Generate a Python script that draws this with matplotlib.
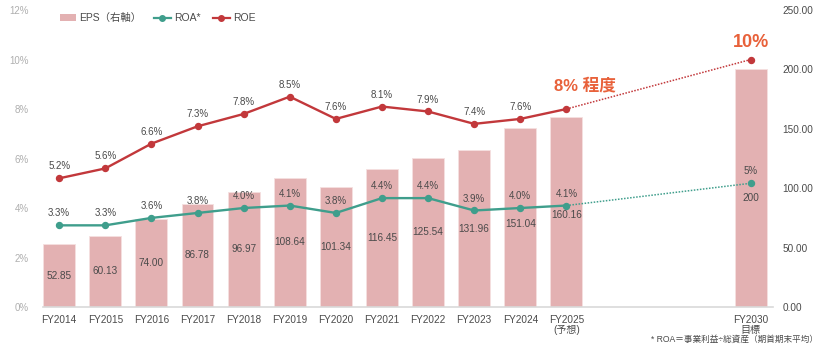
import matplotlib
matplotlib.use("Agg")
import matplotlib.pyplot as plt
from matplotlib.lines import Line2D
from matplotlib.patches import Patch

plt.rcParams['font.family'] = ['Liberation Sans', 'Noto Sans CJK JP', 'DejaVu Sans']

categories = ["FY2014", "FY2015", "FY2016", "FY2017", "FY2018", "FY2019", "FY2020",
              "FY2021", "FY2022", "FY2023", "FY2024", "FY2025\n(予想)", "FY2030\n目標"]
eps = [52.85, 60.13, 74.00, 86.78, 96.97, 108.64, 101.34, 116.45, 125.54, 131.96, 151.04, 160.16, 200]
eps_labels = ["52.85", "60.13", "74.00", "86.78", "96.97", "108.64", "101.34", "116.45",
              "125.54", "131.96", "151.04", "160.16", "200"]
roa = [3.3, 3.3, 3.6, 3.8, 4.0, 4.1, 3.8, 4.4, 4.4, 3.9, 4.0, 4.1, 5.0]
roa_labels = ["3.3%", "3.3%", "3.6%", "3.8%", "4.0%", "4.1%", "3.8%", "4.4%", "4.4%",
              "3.9%", "4.0%", "4.1%", "5%"]
roe = [5.2, 5.6, 6.6, 7.3, 7.8, 8.5, 7.6, 8.1, 7.9, 7.4, 7.6, 8.0, 10.0]
roe_labels = ["5.2%", "5.6%", "6.6%", "7.3%", "7.8%", "8.5%", "7.6%", "8.1%", "7.9%",
              "7.4%", "7.6%", "8% 程度", "10%"]
xpos = list(range(12)) + [15]

BAR = "#E3B1B2"
RED = "#C2383B"
TEAL = "#3F9E8C"
ORANGE = "#E8613A"
LBL = "#4A4A4A"

fig = plt.figure(figsize=(8.39, 3.49), dpi=100)
ax = fig.add_axes([0.0513, 0.1203, 0.8700, 0.8510])
ax2 = ax.twinx()

ax.set_zorder(2)
ax.patch.set_visible(False)
ax2.set_zorder(1)

ax2.bar(xpos, eps, width=0.69, color=BAR, edgecolor="#F5E0E0", linewidth=0.6)
# vertical nudges (points) for the last labels so they clear the ROA markers
nudge = {10: -5, 11: -2, 12: -7}
for i, (x, v, t) in enumerate(zip(xpos, eps, eps_labels)):
    ax2.annotate(t, (x, v / 2), xytext=(0, nudge.get(i, 0)), textcoords="offset points",
                 ha="center", va="center", fontsize=7.2, color=LBL)

# ROE
ax.plot(xpos[:12], roe[:12], color=RED, lw=1.7, marker="o", ms=4.3, zorder=5)
ax.plot([xpos[11], xpos[12]], [roe[11], roe[12]], color=RED, lw=1.1, ls=(0, (1, 1)), zorder=4)
ax.plot([xpos[12]], [roe[12]], color=RED, marker="o", ms=4.3, ls="none", zorder=5)
# ROA
ax.plot(xpos[:12], roa[:12], color=TEAL, lw=1.7, marker="o", ms=4.3, zorder=5)
ax.plot([xpos[11], xpos[12]], [roa[11], roa[12]], color=TEAL, lw=1.1, ls=(0, (1, 1)), zorder=4)
ax.plot([xpos[12]], [roa[12]], color=TEAL, marker="o", ms=4.3, ls="none", zorder=5)

for i, (x, v, t) in enumerate(zip(xpos, roe, roe_labels)):
    if i == 11:
        ax.annotate(t, (x, v), xytext=(13, 11), textcoords="offset points", ha="center",
                    va="bottom", fontsize=12, fontweight="bold", color=ORANGE)
    elif i == 12:
        ax.annotate(t, (x, v), xytext=(0, 6), textcoords="offset points", ha="center",
                    va="bottom", fontsize=13, fontweight="bold", color=ORANGE)
    else:
        ax.annotate(t, (x, v), xytext=(0, 5), textcoords="offset points", ha="center",
                    va="bottom", fontsize=7, color=LBL)
for x, v, t in zip(xpos, roa, roa_labels):
    ax.annotate(t, (x, v), xytext=(0, 5), textcoords="offset points", ha="center",
                va="bottom", fontsize=7, color=LBL)

ax.set_xlim(-0.35, 15.48)
ax.set_ylim(0, 12)
ax2.set_ylim(0, 250)
ax.set_yticks([0, 2, 4, 6, 8, 10, 12])
ax.set_yticklabels([f"{v}%" for v in [0, 2, 4, 6, 8, 10, 12]])
ax2.set_yticks([0, 50, 100, 150, 200, 250])
ax2.set_yticklabels([f"{v:.2f}" for v in [0, 50, 100, 150, 200, 250]])
ax.set_xticks(xpos)
ax.set_xticklabels(categories, fontsize=7.2, color=LBL, linespacing=1.0)

for a in (ax, ax2):
    for s in a.spines.values():
        s.set_visible(False)
ax.spines["bottom"].set_visible(True)
ax.spines["bottom"].set_color("#D9D9D9")
ax.spines["bottom"].set_linewidth(1.2)
ax.tick_params(axis="x", length=0, pad=6)
ax.tick_params(axis="y", length=0, labelsize=7, labelcolor="#AFAFAF", pad=10.5)
ax2.tick_params(axis="y", length=0, labelsize=7.2, labelcolor=LBL, pad=7)

handles = [Patch(facecolor=BAR, edgecolor="none"),
           Line2D([0], [0], color=TEAL, lw=1.6, marker="o", ms=4),
           Line2D([0], [0], color=RED, lw=1.6, marker="o", ms=4)]
ax.legend(handles, ["EPS（右軸）", "ROA*", "ROE"], loc="upper left", bbox_to_anchor=(0.01, 1.02),
          ncol=3, frameon=False, fontsize=7.5, handlelength=1.6, handletextpad=0.3,
          columnspacing=1.2, labelcolor=LBL)

fig.text(0.975, 0.015, "* ROA＝事業利益÷総資産（期首期末平均）", ha="right", va="bottom",
         fontsize=6.2, color=LBL)

fig.savefig("out.png", dpi=100)
